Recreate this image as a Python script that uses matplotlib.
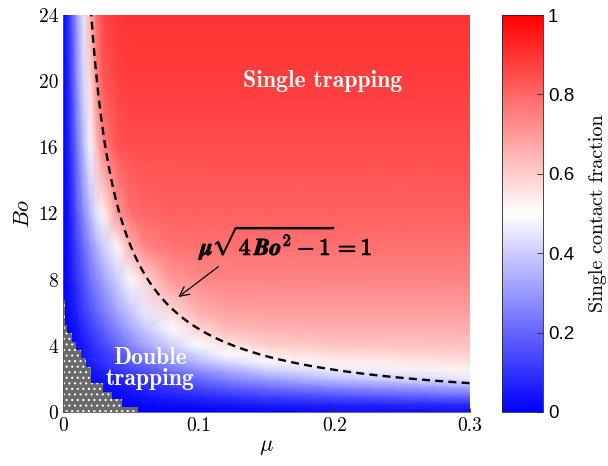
import numpy as np
import matplotlib
matplotlib.use("Agg")
import matplotlib.pyplot as plt
import matplotlib.patheffects as pe
from matplotlib.colors import LinearSegmentedColormap

# grid of the map
mu = [0, 0.005, 0.01, 0.015, 0.02, 0.025, 0.03, 0.04, 0.05, 0.06,
      0.08, 0.1, 0.12, 0.15, 0.2, 0.3]
bo = [0, 0.5, 1, 1.5, 2, 2.5, 3, 3.5, 4, 5, 6, 8, 10, 12, 16, 20, 24]

# single contact fraction, one row per Bo value (bottom -> top)
frac = [
    [0, 0, 0, 0, 0, 0, 0, 0, 0, 0, 0, 0, 0.01, 0.01, 0.02, 0.02],
    [0, 0, 0, 0, 0, 0, 0, 0.01, 0.01, 0.02, 0.03, 0.04, 0.05, 0.07, 0.08, 0.10],
    [0, 0, 0, 0, 0, 0.01, 0.01, 0.02, 0.03, 0.05, 0.07, 0.09, 0.11, 0.14, 0.17, 0.22],
    [0, 0, 0, 0, 0.01, 0.02, 0.03, 0.04, 0.06, 0.08, 0.11, 0.15, 0.18, 0.22, 0.27, 0.33],
    [0, 0, 0, 0.01, 0.02, 0.03, 0.04, 0.07, 0.09, 0.11, 0.16, 0.21, 0.26, 0.31, 0.38, 0.45],
    [0, 0, 0.01, 0.02, 0.04, 0.05, 0.07, 0.10, 0.13, 0.16, 0.22, 0.28, 0.33, 0.40, 0.46, 0.52],
    [0, 0, 0.02, 0.04, 0.06, 0.08, 0.10, 0.14, 0.18, 0.22, 0.29, 0.36, 0.42, 0.48, 0.53, 0.56],
    [0, 0.01, 0.03, 0.05, 0.07, 0.09, 0.11, 0.16, 0.21, 0.26, 0.35, 0.42, 0.49, 0.54, 0.57, 0.59],
    [0, 0.01, 0.03, 0.05, 0.08, 0.11, 0.14, 0.20, 0.26, 0.32, 0.41, 0.49, 0.55, 0.59, 0.61, 0.62],
    [0, 0.02, 0.04, 0.08, 0.12, 0.15, 0.19, 0.26, 0.33, 0.39, 0.49, 0.58, 0.63, 0.65, 0.66, 0.66],
    [0, 0.03, 0.07, 0.12, 0.16, 0.20, 0.24, 0.32, 0.39, 0.45, 0.57, 0.65, 0.68, 0.69, 0.69, 0.69],
    [0, 0.04, 0.10, 0.16, 0.22, 0.27, 0.32, 0.41, 0.49, 0.58, 0.70, 0.73, 0.74, 0.74, 0.74, 0.74],
    [0, 0.05, 0.13, 0.21, 0.28, 0.35, 0.41, 0.52, 0.66, 0.74, 0.77, 0.78, 0.78, 0.78, 0.78, 0.78],
    [0, 0.06, 0.17, 0.27, 0.36, 0.45, 0.53, 0.70, 0.78, 0.80, 0.81, 0.81, 0.81, 0.81, 0.81, 0.81],
    [0, 0.08, 0.22, 0.36, 0.48, 0.63, 0.75, 0.83, 0.85, 0.85, 0.85, 0.85, 0.85, 0.85, 0.85, 0.85],
    [0, 0.10, 0.27, 0.42, 0.57, 0.74, 0.83, 0.87, 0.88, 0.88, 0.88, 0.88, 0.88, 0.88, 0.88, 0.88],
    [0, 0.12, 0.30, 0.45, 0.65, 0.80, 0.86, 0.89, 0.90, 0.90, 0.90, 0.90, 0.90, 0.90, 0.90, 0.90],
]

# no-data staircase in the lower left corner
nan_mu_edges = [0, 0.0012, 0.003, 0.0065, 0.0095, 0.013, 0.017, 0.021,
                0.0295, 0.036, 0.0435, 0.055]
nan_bo_top = [6.8, 5.25, 4.8, 4.25, 3.75, 3.25, 2.7, 1.75, 1.2, 0.8, 0.3]

plt.rcParams['font.family'] = 'serif'
plt.rcParams['font.serif'] = ['cmr10']
plt.rcParams['mathtext.fontset'] = 'cm'
plt.rcParams['axes.formatter.use_mathtext'] = True
plt.rcParams['hatch.color'] = 'white'
plt.rcParams['hatch.linewidth'] = 0.8

bwr = LinearSegmentedColormap.from_list('bwr_m', [(0, 0, 1), (1, 1, 1), (1, 0, 0)])

fig = plt.figure(figsize=(6.08, 4.66), dpi=100)
ax = fig.add_axes([0.1036, 0.1159, 0.6694, 0.8519])

MU, BO = np.meshgrid(mu, bo)
pc = ax.pcolormesh(MU, BO, np.array(frac), shading='gouraud', cmap=bwr, vmin=0, vmax=1)

# hatched gray region
left = np.array(nan_mu_edges[:-1])
width = np.diff(nan_mu_edges)
ax.bar(left, nan_bo_top, width=width, align='edge', color='#6a6a6a',
       edgecolor='white', linewidth=0, hatch='...', zorder=2)

# theory curve mu*sqrt(4Bo^2-1)=1
mu_line = np.linspace(0.0205, 0.3, 300)
bo_line = np.sqrt(1 / mu_line**2 + 1) / 2
ax.plot(mu_line, bo_line, color='k', lw=1.7, ls=(0, (3.4, 2.2)), zorder=3)

eq = r'$\boldsymbol{\mu}\sqrt{4\,\boldsymbol{Bo}^{2}-1}=1$'
ann = ax.annotate(eq, xy=(0.085, 6.95), xytext=(0.165, 10.2),
                  ha='center', va='center', fontsize=17,
                  arrowprops=dict(arrowstyle='->', color='k', lw=0.9,
                                  shrinkA=2, shrinkB=0, relpos=(0.14, 0.0)))
ann.set_path_effects([pe.withStroke(linewidth=0.7, foreground='k')])

ax.text(0.191, 20.0, 'Single trapping', color='white', fontfamily='cmb10',
        fontsize=17, ha='center', va='center')
ax.text(0.064, 2.65, 'Double\ntrapping', color='white', fontfamily='cmb10',
        fontsize=17, ha='center', va='center', linespacing=0.95)

ax.set_xlim(0, 0.3)
ax.set_ylim(0, 24)
ax.set_xticks([0, 0.1, 0.2, 0.3])
ax.set_xticklabels(['0', '0.1', '0.2', '0.3'])
ax.set_yticks(np.arange(0, 25, 4))
ax.set_yticklabels([str(v) for v in range(0, 25, 4)])
ax.tick_params(direction='in', length=3, width=0.6, labelsize=14, color='#262626')
ax.spines['top'].set_visible(False)
ax.spines['right'].set_visible(False)
for s in ['left', 'bottom']:
    ax.spines[s].set_linewidth(0.6)
    ax.spines[s].set_color('#555555')
ax.set_xlabel(r'$\mu$', fontsize=16, labelpad=2)
ax.set_ylabel(r'$Bo$', fontsize=16, labelpad=4)

cax = fig.add_axes([0.8257, 0.1159, 0.0674, 0.8519])
cb = fig.colorbar(pc, cax=cax, ticks=[0, 0.2, 0.4, 0.6, 0.8, 1])
cb.ax.set_yticklabels(['0', '0.2', '0.4', '0.6', '0.8', '1'], fontfamily='Liberation Sans')
cb.ax.tick_params(direction='in', length=4, width=0.6, labelsize=13.5, color='#262626')
cb.outline.set_linewidth(0.6)
cb.outline.set_edgecolor('#262626')
cb.set_label('Single contact fraction', fontsize=14.5, labelpad=11)

fig.savefig('out.png', dpi=100)
